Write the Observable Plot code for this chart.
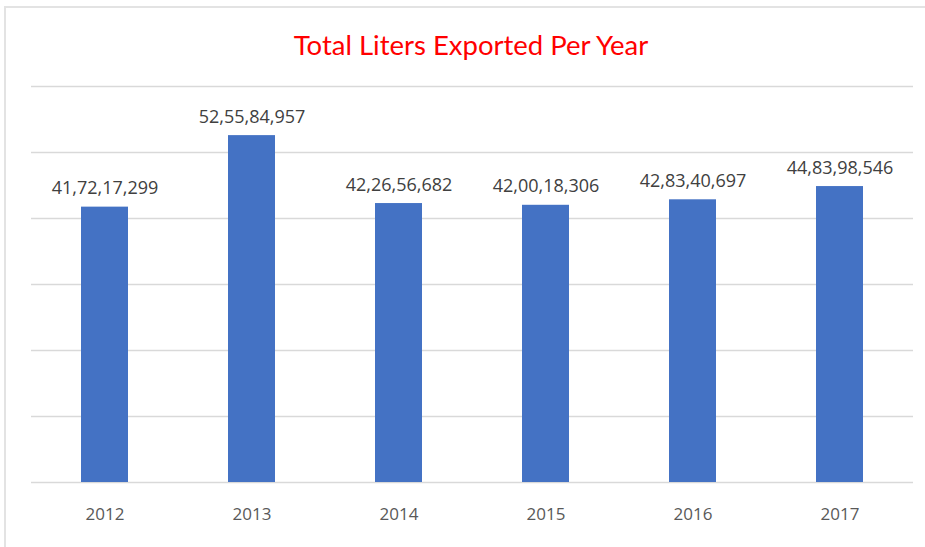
<!DOCTYPE html>
<html>
<head>
<meta charset="utf-8">
<script src="https://cdn.jsdelivr.net/npm/d3@7"></script>
<script src="https://cdn.jsdelivr.net/npm/@observablehq/plot@0.6"></script>
<style>
  html, body { margin: 0; padding: 0; background: #fff; }
  #frame { position: absolute; left: 4px; top: 6px; width: 930px; height: 560px;
           border-left: 2px solid #e3e3e3; border-top: 2px solid #e3e3e3; box-sizing: border-box; }
  #title { position: absolute; left: 0; width: 942px; top: 27px; text-align: center;
           font-family: Lato, sans-serif; font-size: 27.5px; color: #ff0000; line-height: 36px; }
  #chart { position: absolute; left: 0; top: 0; }
</style>
</head>
<body>
<div id="frame"></div>
<div id="title">Total Liters Exported Per Year</div>
<div id="chart"></div>
<script>
const years = ["2012", "2013", "2014", "2015", "2016", "2017"];
const liters = [417217299, 525584957, 422656682, 420018306, 428340697, 448398546];
const gridTicks = [0, 100000000, 200000000, 300000000, 400000000, 500000000, 600000000];

function indianFormat(n) {
  const s = String(Math.round(n));
  if (s.length <= 3) return s;
  const last3 = s.slice(-3);
  let rest = s.slice(0, -3);
  const parts = [];
  while (rest.length > 2) { parts.unshift(rest.slice(-2)); rest = rest.slice(0, -2); }
  if (rest.length) parts.unshift(rest);
  return parts.join(",") + "," + last3;
}

const data = years.map((y, i) => ({year: y, value: liters[i], label: indianFormat(liters[i])}));

const chart = Plot.plot({
  width: 925,
  height: 547,
  marginTop: 86,
  marginBottom: 65,
  marginLeft: 31,
  marginRight: 12,
  style: {fontFamily: "'Open Sans', sans-serif", background: "transparent"},
  x: {domain: years, paddingInner: 0.68, paddingOuter: 0.34, label: null},
  y: {domain: [0, 600000000], label: null},
  marks: [
    Plot.ruleY(gridTicks, {stroke: "#d9d9d9", strokeWidth: 1.3}),
    Plot.barY(data, {x: "year", y: "value", fill: "#4472c4"}),
    Plot.text(data, {x: "year", y: "value", text: "label", lineAnchor: "bottom", dy: -13,
                     fill: "#404040", fontSize: 18}),
    Plot.axisX({tickSize: 0, tickPadding: 25, fontSize: 17, color: "#595959", label: null}),
    Plot.axisY({ticks: [], label: null})
  ]
});
document.getElementById("chart").appendChild(chart);
</script>
</body>
</html>
